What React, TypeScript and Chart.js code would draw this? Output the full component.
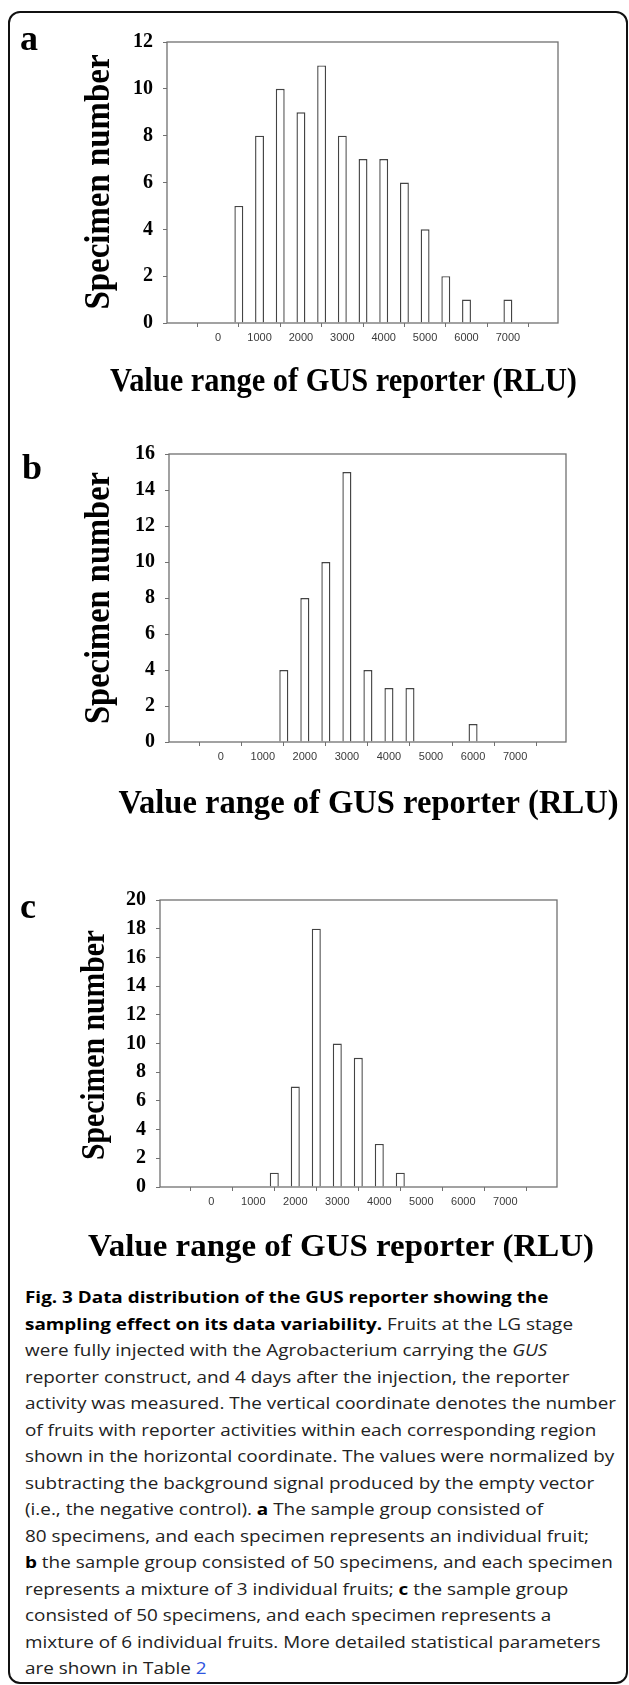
import React, { useEffect, useLayoutEffect, useRef, useState } from "react";
import { Chart, registerables } from "chart.js";

Chart.register(...registerables);

// ---------- data ----------
const BINS = [500, 1000, 1500, 2000, 2500, 3000, 3500, 4000, 4500, 5000, 5500, 6000, 6500, 7000];
const X_TICKS = [0, 1000, 2000, 3000, 4000, 5000, 6000, 7000];
const COUNTS_A = [5, 8, 10, 9, 11, 8, 7, 7, 6, 4, 2, 1, 0, 1];
const COUNTS_B = [0, 0, 4, 8, 10, 15, 4, 3, 3, 0, 0, 1, 0, 0];
const COUNTS_C = [0, 0, 1, 7, 18, 10, 9, 3, 1, 0, 0, 0, 0, 0];
const Y_MAX = [12, 16, 20];
const Y_STEP = 2;
const PANEL_LABELS = ["a", "b", "c"];
const Y_TITLE = "Specimen number";
const X_TITLE = "Value range of GUS reporter (RLU)";

type Seg = { t: string; b?: boolean; i?: boolean; link?: boolean };
const CAPTION: Seg[][] = [
  [{ t: "Fig. 3 Data distribution of the GUS reporter showing the", b: true }],
  [{ t: "sampling effect on its data variability.", b: true }, { t: " Fruits at the LG stage" }],
  [{ t: "were fully injected with the Agrobacterium carrying the " }, { t: "GUS", i: true }],
  [{ t: "reporter construct, and 4 days after the injection, the reporter" }],
  [{ t: "activity was measured. The vertical coordinate denotes the number" }],
  [{ t: "of fruits with reporter activities within each corresponding region" }],
  [{ t: "shown in the horizontal coordinate. The values were normalized by" }],
  [{ t: "subtracting the background signal produced by the empty vector" }],
  [{ t: "(i.e., the negative control). " }, { t: "a", b: true }, { t: " The sample group consisted of" }],
  [{ t: "80 specimens, and each specimen represents an individual fruit;" }],
  [{ t: "b", b: true }, { t: " the sample group consisted of 50 specimens, and each specimen" }],
  [{ t: "represents a mixture of 3 individual fruits; " }, { t: "c", b: true }, { t: " the sample group" }],
  [{ t: "consisted of 50 specimens, and each specimen represents a" }],
  [{ t: "mixture of 6 individual fruits. More detailed statistical parameters" }],
  [{ t: "are shown in Table " }, { t: "2", link: true }],
];

// ---------- layout (page pixels) ----------
const PAGE_W = 629;
const SERIF = "'Liberation Serif', 'Times New Roman', serif";
const SANS = "'Liberation Sans', Arial, sans-serif";
const AXIS_COLOR = "#707070";
const BAR_EDGE = "#444444";

const LAYOUT = [
  {
    top: 0, height: 420,
    plot: { l: 167, r: 558, t: 42, b: 323 }, xMin: -645, xMax: 7620,
    yTitle: { x: 109, cy: 182, size: 36, len: 255 },
    xTitle: { cx: 343.5, base: 391, size: 34, w: 467 },
    label: { x: 20, base: 50, size: 36 },
  },
  {
    top: 420, height: 440,
    plot: { l: 169, r: 566, t: 454, b: 742 }, xMin: -640, xMax: 7620,
    yTitle: { x: 109, cy: 598, size: 36, len: 252 },
    xTitle: { cx: 368.5, base: 813, size: 33, w: 500 },
    label: { x: 22, base: 479, size: 36 },
  },
  {
    top: 860, height: 420,
    plot: { l: 160, r: 557, t: 900, b: 1187 }, xMin: -630, xMax: 7640,
    yTitle: { x: 104, cy: 1045, size: 33, len: 230 },
    xTitle: { cx: 341, base: 1256, size: 32, w: 506 },
    label: { x: 20, base: 918, size: 36 },
  },
];

const COUNTS = [COUNTS_A, COUNTS_B, COUNTS_C];

function Panel({ idx }: { idx: number }) {
  const ref = useRef<HTMLCanvasElement | null>(null);
  const L = LAYOUT[idx];
  useEffect(() => {
    const canvas = ref.current;
    if (!canvas) return;
    const counts = COUNTS[idx];
    const data = BINS.map((b, i) => ({ x: b, y: counts[i] })).filter((d) => d.y > 0);
    const off = L.top;

    const decor = {
      id: "decor" + idx,
      afterDraw(chart: any) {
        const ctx = chart.ctx as CanvasRenderingContext2D;
        const a = chart.chartArea;
        ctx.save();
        // frame
        ctx.strokeStyle = AXIS_COLOR;
        ctx.lineWidth = 1.3;
        ctx.strokeRect(a.left, a.top, a.right - a.left, a.bottom - a.top);
        ctx.fillStyle = "#000";
        // x title
        ctx.font = `bold ${L.xTitle.size}px ${SERIF}`;
        let m = ctx.measureText(X_TITLE).width;
        ctx.save();
        ctx.translate(L.xTitle.cx, L.xTitle.base - off);
        ctx.scale(L.xTitle.w / m, 1);
        ctx.textAlign = "center";
        ctx.textBaseline = "alphabetic";
        ctx.fillText(X_TITLE, 0, 0);
        ctx.restore();
        // y title
        ctx.font = `bold ${L.yTitle.size}px ${SERIF}`;
        m = ctx.measureText(Y_TITLE).width;
        ctx.save();
        ctx.translate(L.yTitle.x, L.yTitle.cy - off);
        ctx.rotate(-Math.PI / 2);
        ctx.scale(L.yTitle.len / m, 1);
        ctx.textAlign = "center";
        ctx.textBaseline = "alphabetic";
        ctx.fillText(Y_TITLE, 0, 0);
        ctx.restore();
        // panel letter
        ctx.font = `bold ${L.label.size}px ${SERIF}`;
        ctx.textAlign = "left";
        ctx.textBaseline = "alphabetic";
        ctx.fillText(PANEL_LABELS[idx], L.label.x, L.label.base - off);
        ctx.restore();
      },
    };

    const chart = new Chart(canvas, {
      type: "bar",
      data: {
        datasets: [
          {
            data: data as any,
            backgroundColor: "#ffffff",
            borderColor: BAR_EDGE,
            borderWidth: 1.4,
            barPercentage: 0.43,
            categoryPercentage: 1,
          },
        ],
      },
      options: {
        animation: false,
        responsive: false,
        devicePixelRatio: 1,
        layout: {
          padding: { left: 0, top: L.plot.t - off, right: PAGE_W - L.plot.r, bottom: 0 },
        },
        plugins: { legend: { display: false }, tooltip: { enabled: false } },
        scales: {
          x: {
            type: "linear",
            min: L.xMin,
            max: L.xMax,
            afterBuildTicks: (s: any) => {
              s.ticks = X_TICKS.map((v) => ({ value: v }));
            },
            afterFit: (s: any) => {
              s.height = L.height - (L.plot.b - off);
            },
            grid: { display: true, drawOnChartArea: false, drawTicks: true, tickLength: 4, color: AXIS_COLOR, lineWidth: 1 },
            border: { display: false },
            ticks: {
              autoSkip: false,
              maxRotation: 0,
              padding: 4,
              color: "#3a3a3a",
              font: { family: SANS, size: 11 },
              callback: (v: any) => String(v),
            },
          },
          y: {
            min: 0,
            max: Y_MAX[idx],
            afterFit: (s: any) => {
              s.width = L.plot.l;
            },
            grid: { display: true, drawOnChartArea: false, drawTicks: true, tickLength: 4, color: AXIS_COLOR, lineWidth: 1 },
            border: { display: false },
            ticks: {
              stepSize: Y_STEP,
              padding: 10,
              color: "#000",
              font: { family: SERIF, size: 20, weight: "bold" },
            },
          },
        },
      },
      plugins: [decor],
    });
    return () => chart.destroy();
  }, []);
  return (
    <canvas
      ref={ref}
      width={PAGE_W}
      height={L.height}
      style={{ position: "absolute", left: 0, top: L.top, width: PAGE_W, height: L.height }}
    />
  );
}

function Caption() {
  const probe = useRef<HTMLDivElement | null>(null);
  const [sx, setSx] = useState(1);
  useLayoutEffect(() => {
    if (probe.current) {
      const w = probe.current.getBoundingClientRect().width;
      if (w > 0) setSx(591 / w);
    }
  }, []);
  return (
    <div
      style={{
        position: "absolute",
        left: 25,
        top: 1297.5 - 13.25,
        fontFamily: "'Open Sans', 'Noto Sans', sans-serif",
        fontSize: 16.4,
        lineHeight: "26.5px",
        color: "#222",
        transform: `scaleX(${sx})`,
        transformOrigin: "left top",
      }}
    >
      {CAPTION.map((line, li) => (
        <div key={li} style={{ whiteSpace: "nowrap", height: 26.5 }}>
          <span ref={li === 4 ? probe : undefined} style={{ display: "inline-block" }}>
            {line.map((s, si) => (
              <span
                key={si}
                style={{
                  fontWeight: s.b ? 700 : 400,
                  fontStyle: s.i ? "italic" : "normal",
                  color: s.link ? "#2f55e0" : s.b ? "#000" : "#222",
                }}
              >
                {s.t}
              </span>
            ))}
          </span>
        </div>
      ))}
    </div>
  );
}

export default function App() {
  return (
    <div
      style={{
        position: "absolute",
        left: 0,
        top: 0,
        width: PAGE_W,
        height: 1685,
        background: "#fff",
        overflow: "hidden",
      }}
    >
      <Panel idx={0} />
      <Panel idx={1} />
      <Panel idx={2} />
      <Caption />
      <div
        style={{
          position: "absolute",
          left: 8,
          top: 11,
          width: 620,
          height: 1673,
          boxSizing: "border-box",
          border: "2.5px solid #111",
          borderRadius: 12,
          pointerEvents: "none",
        }}
      />
    </div>
  );
}
